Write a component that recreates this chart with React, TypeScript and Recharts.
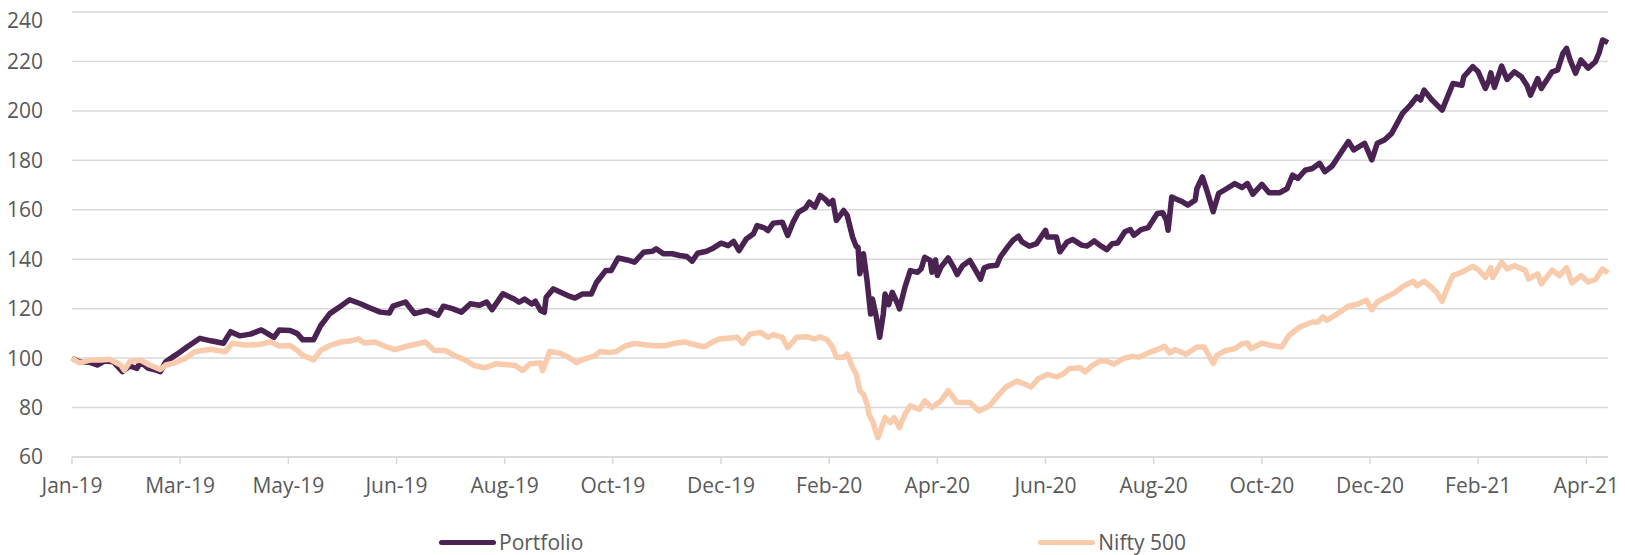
import { CartesianGrid, Legend, Line, LineChart, XAxis, YAxis } from "recharts";

// days counted from 1 Jan 2019
const portfolioDays = [
  0, 4, 10, 14, 18, 23, 28, 32, 36, 38, 42, 46, 49, 52, 56, 60, 64, 71, 77, 84, 88, 93, 99, 105, 112, 115,
  121, 125, 128, 134, 138, 143, 149, 154, 160, 165, 171, 176, 178, 185, 190, 197, 203, 206, 211, 216, 221,
  226, 230, 233, 239, 245, 248, 251, 255, 257, 260, 262, 263, 267, 271, 275, 279, 283, 288, 291, 296, 299,
  303, 308, 312, 317, 322, 324, 328, 333, 337, 341, 344, 347, 352, 355, 360, 364, 367, 370, 374, 378, 380,
  384, 386, 389, 394, 397, 400, 403, 407, 409, 412, 415, 418, 420, 422, 424, 428, 430, 433, 435, 436, 437,
  439, 440, 441, 443, 444, 446, 448, 450, 451, 453, 455, 458, 459, 462, 465, 469, 471, 473, 476, 477, 479,
  480, 482, 486, 489, 491, 494, 498, 504, 506, 509, 513, 515, 519, 522, 525, 527, 531, 535, 540, 541, 546,
  548, 552, 555, 560, 563, 567, 570, 574, 577, 580, 584, 587, 589, 593, 597, 599, 602, 605, 607, 608, 610,
  613, 616, 619, 623, 624, 627, 630, 633, 636, 639, 645, 649, 652, 655, 660, 664, 670, 674, 677, 680, 684,
  688, 692, 695, 699, 703, 708, 711, 717, 721, 724, 728, 732, 738, 742, 746, 748, 750, 754, 760, 763, 766,
  771, 772, 777, 780, 784, 786, 787, 789, 793, 796, 800, 804, 807, 809, 813, 815, 821, 824, 827, 829, 831,
  834, 837, 841, 845, 847, 849, 852,
];
const portfolioValues = [
  100, 98.5, 98.3, 97.2, 98.8, 98.5, 94.5, 96.8, 95.8, 98.5, 96, 95.3, 94.5, 98.5, 100.5, 102.5, 104.6, 108,
  107, 106, 110.7, 109, 109.7, 111.4, 108.4, 111.4, 111.2, 109.9, 107.4, 107.4, 113.2, 118, 121, 123.6, 122,
  120.4, 118.6, 118.2, 121, 122.7, 118, 119.3, 117.3, 121, 120, 118.6, 122, 121.4, 122.7, 119.6, 126, 124,
  122.6, 123.9, 121.9, 123, 119.2, 118.5, 124.6, 128, 126.6, 125.3, 124.3, 125.9, 125.9, 130.7, 135.4, 135.4,
  140.5, 139.7, 138.8, 142.8, 143.2, 144.2, 142.2, 142.2, 141.5, 141.1, 139.2, 142.4, 143.2, 144.2, 146.5,
  145.5, 147.2, 143.5, 148.2, 150.3, 153.6, 152.7, 151.6, 154.6, 155, 149.6, 155, 159.1, 160.8, 163.1, 161.1,
  165.8, 164.1, 162.4, 163.8, 155.7, 159.7, 157.7, 148.9, 145.1, 144.9, 134.1, 142.2, 136.8, 131.4, 117.8,
  123.9, 117.2, 108.4, 117.8, 125.9, 121.6, 126.6, 121.9, 119.9, 128.6, 135.4, 134.7, 136.1, 140.8, 139.5,
  134.7, 139.7, 133.4, 136.8, 140.5, 136.8, 133.8, 137.4, 139.5, 132, 136.5, 137.3, 137.6, 141, 145, 147.7,
  149.3, 147, 145.3, 146.3, 151.7, 149, 149, 143, 147, 148, 145.7, 145.3, 147.4, 145.7, 143.9, 146.3, 146.6,
  151.1, 152, 149.7, 152, 152.8, 155.1, 158.5, 158.8, 155.8, 151.7, 165.2, 164.2, 163.2, 161.9, 163.9, 168.6,
  173.3, 166.6, 159.2, 166.6, 167.9, 170.6, 169, 170.6, 166.3, 170.3, 166.9, 166.9, 168.6, 174, 172.7, 176,
  176.7, 178.8, 175.4, 177.7, 182.2, 187.6, 184.2, 186.9, 180.2, 186.9, 188.2, 190.9, 199, 202, 205.7, 204.4,
  208.4, 204.7, 200.3, 205.7, 211.1, 210.4, 213.8, 217.9, 215.8, 209.1, 212.5, 215.4, 209.5, 218.1, 212.7,
  215.8, 213.8, 210.4, 206.4, 213.1, 209.1, 215.8, 216.5, 223.3, 225.3, 220.6, 215.2, 220.6, 217.3, 219.9,
  223.3, 228.7, 227.6,
];

const niftyDays = [
  0, 4, 10, 16, 21, 27, 29, 32, 38, 43, 49, 52, 57, 63, 68, 77, 85, 89, 96, 104, 110, 115, 121, 125, 128,
  134, 138, 143, 149, 154, 159, 162, 168, 174, 179, 185, 190, 196, 201, 207, 212, 218, 223, 229, 235, 240,
  246, 250, 254, 260, 261, 265, 271, 275, 280, 284, 290, 293, 298, 302, 307, 312, 318, 323, 329, 334, 340,
  343, 348, 351, 355, 359, 365, 369, 372, 376, 382, 386, 389, 394, 397, 402, 408, 412, 415, 419, 422, 424,
  428, 430, 433, 435, 437, 439, 441, 442, 444, 447, 451, 454, 456, 459, 462, 465, 470, 473, 477, 482, 486,
  491, 498, 503, 509, 513, 518, 524, 527, 532, 536, 541, 546, 550, 553, 559, 562, 566, 570, 574, 578, 583,
  588, 592, 597, 602, 606, 609, 612, 618, 624, 628, 633, 635, 640, 645, 649, 652, 654, 660, 665, 671, 675,
  681, 688, 691, 694, 696, 702, 708, 713, 718, 721, 724, 729, 734, 738, 744, 746, 750, 754, 757, 760, 763,
  766, 771, 777, 780, 784, 787, 788, 793, 796, 800, 806, 808, 813, 815, 821, 825, 829, 832, 837, 841, 845,
  849, 852,
];
const niftyValues = [
  100, 98.1, 99.2, 99.2, 99.5, 97.2, 95.1, 98.5, 99.2, 97.2, 95.4, 97.2, 98.1, 99.9, 102.6, 103.6, 102.6, 106,
  105.3, 105.5, 106.6, 104.9, 105.1, 103.1, 101.1, 99.3, 103.1, 105.1, 106.5, 106.9, 107.8, 106.1, 106.5,
  104.7, 103.4, 104.7, 105.5, 106.5, 103.1, 103.1, 101.1, 99.3, 97, 96.1, 97.7, 97.4, 97, 95, 97.7, 98, 94.9,
  102.7, 101.9, 100.5, 98.2, 99.6, 100.9, 102.7, 102.3, 102.7, 105, 105.9, 105.4, 105, 105, 105.9, 106.6,
  105.9, 105, 104.6, 106.4, 107.7, 108.1, 108.4, 105.9, 109.7, 110.4, 108.4, 109.5, 108.4, 104.3, 108.4,
  108.6, 107.7, 108.6, 107.3, 104.3, 100.3, 100.3, 101.6, 96.2, 93.5, 86.8, 85.4, 81.4, 77.3, 74.6, 67.8,
  75.9, 73.9, 75.9, 71.9, 77.3, 80.7, 79.3, 82.7, 80, 82.7, 86.8, 82, 82, 78.6, 80.7, 84.3, 88.3, 90.7, 89.9,
  88.3, 91.7, 93.4, 92.4, 93.7, 95.7, 96.1, 94.4, 97.1, 98.8, 98.8, 97.5, 99.8, 100.7, 100.4, 102.1, 103.4,
  104.8, 102.1, 103.4, 101.6, 104.5, 104.5, 97.8, 101.1, 103.1, 103.8, 105.8, 106.1, 103.8, 106.1, 105.1,
  104.5, 109.2, 112.6, 114.6, 114.6, 116.7, 115.3, 118, 121, 121.8, 123.4, 119.6, 122.7, 124.7, 126.6, 128.9,
  131.1, 129.3, 131.1, 128.7, 126.6, 123, 128.7, 133.4, 134.8, 137.1, 135.8, 132.7, 136.6, 132.6, 138.8,
  136.1, 137.4, 135.6, 132, 134.1, 130, 135.6, 133.4, 136.6, 130.4, 133.4, 130.8, 131.8, 136.1, 134.4,
];

const seriesNames = ["Portfolio", "Nifty 500"];
const xTickDays = [0, 60, 120, 180, 240, 300, 360, 420, 480, 540, 600, 660, 720, 780, 840];
const xTickLabels = [
  "Jan-19", "Mar-19", "May-19", "Jun-19", "Aug-19", "Oct-19", "Dec-19", "Feb-20",
  "Apr-20", "Jun-20", "Aug-20", "Oct-20", "Dec-20", "Feb-21", "Apr-21",
];
const yTicks = [60, 80, 100, 120, 140, 160, 180, 200, 220, 240];

const portfolioData = portfolioDays.map((day, i) => ({ day, value: portfolioValues[i] }));
const niftyData = niftyDays.map((day, i) => ({ day, value: niftyValues[i] }));

const FONT = "'Open Sans', sans-serif";
const TEXT = "#595959";
const GRID = "#d9d9d9";

function ChartLegend({ payload }: { payload?: any[] }) {
  // keep the series order instead of the alphabetical one
  const items = [...(payload ?? [])].sort(
    (a, b) => seriesNames.indexOf(a.value) - seriesNames.indexOf(b.value)
  );
  return (
    <div style={{ display: "flex", justifyContent: "center", gap: 455, fontFamily: FONT, fontSize: 21, color: TEXT }}>
      {items.map((item) => (
        <div key={item.value} style={{ display: "flex", alignItems: "center", height: 24 }}>
          <span style={{ width: 57, height: 5, borderRadius: 3, background: item.color, marginRight: 3 }} />
          <span style={{ lineHeight: "24px" }}>{item.value}</span>
        </div>
      ))}
    </div>
  );
}

export default function App() {
  return (
    <>
      {/* the top tick label sits just above the svg box */}
      <style>{`.recharts-surface { overflow: visible; }`}</style>
      <LineChart width={1617} height={547} margin={{ top: 4, right: 17, left: 0, bottom: 58 }}>
        <CartesianGrid vertical={false} stroke={GRID} strokeWidth={1.5} />
        <XAxis
          dataKey="day"
          type="number"
          domain={[0, 852]}
          ticks={xTickDays}
          interval={0}
          height={40}
          stroke={GRID}
          strokeWidth={1.5}
          tickSize={7}
          tickMargin={14}
          tick={{ fontSize: 21, fill: TEXT, fontFamily: FONT }}
          tickFormatter={(v) => xTickLabels[xTickDays.indexOf(v)]}
        />
        <YAxis
          domain={[60, 240]}
          ticks={yTicks}
          width={64}
          axisLine={false}
          tickLine={false}
          tickSize={0}
          tickMargin={29}
          tick={{ fontSize: 21, fill: TEXT, fontFamily: FONT }}
        />
        <Legend
          layout="horizontal"
          verticalAlign="middle"
          align="center"
          wrapperStyle={{ top: 522, left: 0, width: 1609 }}
          content={(props: any) => <ChartLegend payload={props.payload} />}
        />
        <Line
          data={portfolioData}
          dataKey="value"
          name={seriesNames[0]}
          type="linear"
          stroke="#4a2353"
          strokeWidth={5.5}
          strokeLinejoin="round"
          dot={false}
          activeDot={false}
          isAnimationActive={false}
        />
        <Line
          data={niftyData}
          dataKey="value"
          name={seriesNames[1]}
          type="linear"
          stroke="#f8cbad"
          strokeWidth={5.5}
          strokeLinejoin="round"
          dot={false}
          activeDot={false}
          isAnimationActive={false}
        />
      </LineChart>
    </>
  );
}
